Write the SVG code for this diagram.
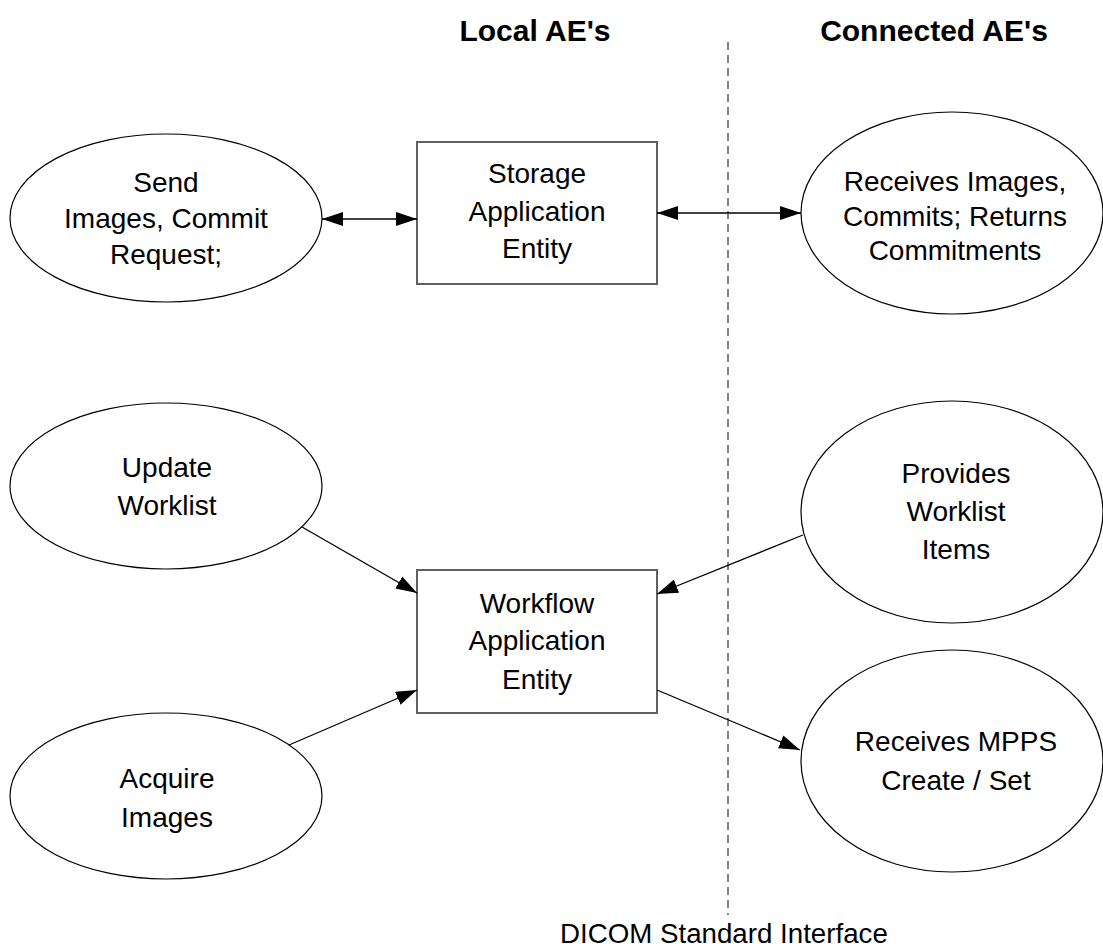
<svg xmlns="http://www.w3.org/2000/svg" width="1103" height="949" viewBox="0 0 1103 949">
<style>
  .bg { fill: #ffffff; }
  .ell { fill: #ffffff; stroke: #000000; stroke-width: 1.2; }
  .box { fill: #ffffff; stroke: #606060; stroke-width: 2; }
  .lbl { font-family: "Liberation Sans", Arial, sans-serif; font-size: 28px; fill: #000000; text-anchor: middle; }
  .ttl { font-family: "Liberation Sans", Arial, sans-serif; font-size: 30px; font-weight: bold; fill: #000000; text-anchor: middle; }
  .foot { font-family: "Liberation Sans", Arial, sans-serif; font-size: 27.7px; fill: #000000; }
  .conn { stroke: #000000; stroke-width: 1.3; fill: none; }
  .dash { stroke: #404040; stroke-width: 1.3; stroke-dasharray: 8 5; fill: none; }
</style>
<defs>
  <marker id="arrEnd" markerUnits="userSpaceOnUse" markerWidth="21" markerHeight="14" refX="21" refY="7" orient="auto">
    <path d="M0,0 L21,7 L0,14 z" fill="#000000"/>
  </marker>
  <marker id="arrStart" markerUnits="userSpaceOnUse" markerWidth="21" markerHeight="14" refX="0" refY="7" orient="auto">
    <path d="M21,0 L0,7 L21,14 z" fill="#000000"/>
  </marker>
</defs>
<rect class="bg" x="0" y="0" width="1103" height="949"/>

<g id="titles">
  <text class="ttl" x="535" y="41">Local AE's</text>
  <text class="ttl" x="934" y="41">Connected AE's</text>
</g>

<g id="interface">
  <line class="dash" x1="728" y1="42" x2="728" y2="915"/>
  <text class="foot" x="560" y="943">DICOM Standard Interface</text>
</g>

<g id="send">
  <ellipse class="ell" cx="166" cy="218" rx="156" ry="84"/>
  <text class="lbl" x="166" y="192">Send</text>
  <text class="lbl" x="166" y="228">Images, Commit</text>
  <text class="lbl" x="166" y="264">Request;</text>
</g>

<g id="storage">
  <rect class="box" x="417" y="142" width="240" height="142"/>
  <text class="lbl" x="537" y="183">Storage</text>
  <text class="lbl" x="537" y="221">Application</text>
  <text class="lbl" x="537" y="258">Entity</text>
</g>

<g id="receivesImages">
  <ellipse class="ell" cx="952" cy="213" rx="151" ry="101"/>
  <text class="lbl" x="955" y="191">Receives Images,</text>
  <text class="lbl" x="955" y="226">Commits; Returns</text>
  <text class="lbl" x="955" y="260">Commitments</text>
</g>

<g id="updateWorklist">
  <ellipse class="ell" cx="166" cy="486" rx="156" ry="83"/>
  <text class="lbl" x="167" y="477">Update</text>
  <text class="lbl" x="167" y="515">Worklist</text>
</g>

<g id="workflow">
  <rect class="box" x="417" y="570" width="240" height="143"/>
  <text class="lbl" x="537" y="613">Workflow</text>
  <text class="lbl" x="537" y="650">Application</text>
  <text class="lbl" x="537" y="689">Entity</text>
</g>

<g id="providesWorklist">
  <ellipse class="ell" cx="952" cy="512" rx="151" ry="111"/>
  <text class="lbl" x="956" y="483">Provides</text>
  <text class="lbl" x="956" y="521">Worklist</text>
  <text class="lbl" x="956" y="559">Items</text>
</g>

<g id="acquireImages">
  <ellipse class="ell" cx="166" cy="796" rx="156" ry="83"/>
  <text class="lbl" x="167" y="788">Acquire</text>
  <text class="lbl" x="167" y="827">Images</text>
</g>

<g id="receivesMPPS">
  <ellipse class="ell" cx="952" cy="761" rx="151" ry="111"/>
  <text class="lbl" x="956" y="751">Receives MPPS</text>
  <text class="lbl" x="956" y="790">Create / Set</text>
</g>

<g id="connectors">
  <line class="conn" x1="322" y1="219" x2="417" y2="219" marker-start="url(#arrStart)" marker-end="url(#arrEnd)"/>
  <line class="conn" x1="657" y1="213" x2="801" y2="213" marker-start="url(#arrStart)" marker-end="url(#arrEnd)"/>
  <line class="conn" x1="302" y1="527" x2="417" y2="593" marker-end="url(#arrEnd)"/>
  <line class="conn" x1="289" y1="745" x2="417" y2="690" marker-end="url(#arrEnd)"/>
  <line class="conn" x1="803" y1="535" x2="657" y2="594" marker-end="url(#arrEnd)"/>
  <line class="conn" x1="657" y1="690" x2="800" y2="750" marker-end="url(#arrEnd)"/>
</g>
</svg>
